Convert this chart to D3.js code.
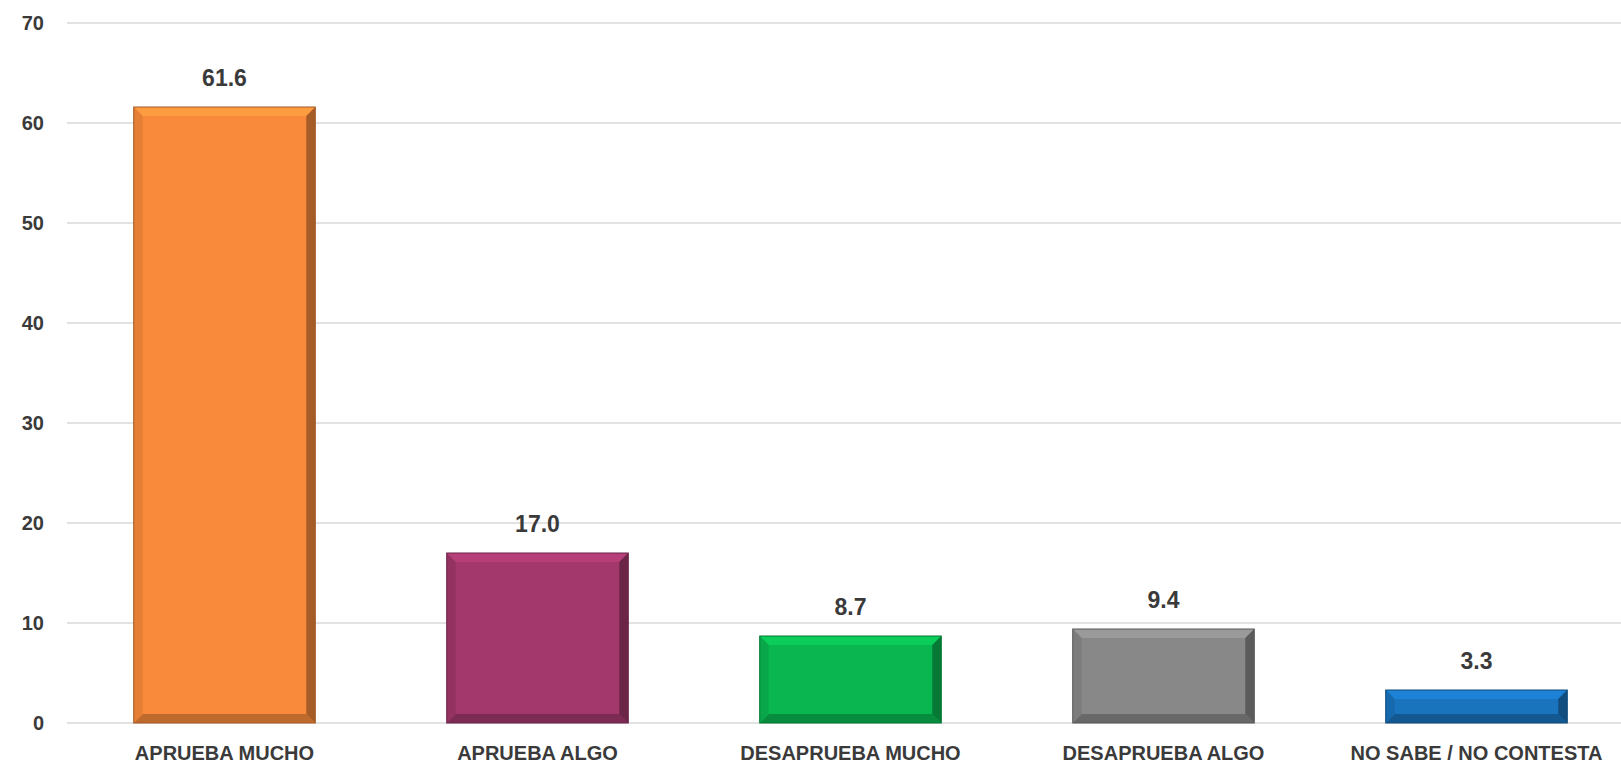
<!DOCTYPE html>
<html lang="es">
<head>
<meta charset="UTF-8">
<title>Aprobación</title>
<script src="https://cdn.jsdelivr.net/npm/d3@7"></script>
<style>
  body { margin: 0; padding: 0; background: #ffffff; }
  svg { display: block; }
  .tick text, .cat, .val {
    font-family: "Liberation Sans", Arial, sans-serif;
    font-weight: bold;
    fill: #3a3a3a;
  }
</style>
</head>
<body>
<div id="chart"></div>
<script>
  // data
  const categories = ["APRUEBA MUCHO", "APRUEBA ALGO", "DESAPRUEBA MUCHO", "DESAPRUEBA ALGO", "NO SABE / NO CONTESTA"];
  const values = [61.6, 17.0, 8.7, 9.4, 3.3];
  const colors = ["#F98A3B", "#A2386B", "#0AB650", "#888888", "#1A73BD"];
  const yTicks = [0, 10, 20, 30, 40, 50, 60, 70];

  const w = 1621, h = 764;

  const svg = d3.select("#chart")
    .append("svg")
    .attr("width", w)
    .attr("height", h);

  const x = d3.scaleBand()
    .domain(categories)
    .range([68, 1633])
    .paddingInner(0.42)
    .paddingOuter(0.21);

  const y = d3.scaleLinear()
    .domain([0, 70])
    .range([723, 23]);

  // gridlines
  svg.append("g")
    .selectAll("line")
    .data(yTicks)
    .enter()
    .append("line")
    .attr("x1", 67)
    .attr("x2", w)
    .attr("y1", d => y(d))
    .attr("y2", d => y(d))
    .attr("stroke", "#d9d9d9")
    .attr("stroke-width", 1.5);

  // y axis labels
  const yAxis = svg.append("g")
    .attr("transform", "translate(51,0)")
    .call(d3.axisLeft(y).tickValues(yTicks).tickSize(0).tickPadding(7));
  yAxis.select(".domain").remove();
  yAxis.selectAll(".tick text").style("font-size", "20px");

  // bars with bevel
  const bev = 9;
  const bars = svg.append("g")
    .selectAll("g")
    .data(categories)
    .enter()
    .append("g");

  bars.each(function (d, i) {
    const g = d3.select(this);
    const x0 = x(d), x1 = x(d) + x.bandwidth();
    const y0 = y(values[i]), y1 = y(0);
    const c = d3.color(colors[i]);
    g.append("rect")
      .attr("x", x0).attr("y", y0)
      .attr("width", x1 - x0).attr("height", y1 - y0)
      .attr("fill", c.formatHex());
    const b = Math.min(bev, (y1 - y0) / 2);
    const faces = [
      { p: [[x0, y0], [x1, y0], [x1 - b, y0 + b], [x0 + b, y0 + b]], col: c.brighter(0.4) },
      { p: [[x1, y0], [x1, y1], [x1 - b, y1 - b], [x1 - b, y0 + b]], col: c.darker(1.4) },
      { p: [[x0, y1], [x1, y1], [x1 - b, y1 - b], [x0 + b, y1 - b]], col: c.darker(0.9) },
      { p: [[x0, y0], [x0 + b, y0 + b], [x0 + b, y1 - b], [x0, y1]], col: c.darker(0.3) }
    ];
    g.selectAll("polygon")
      .data(faces)
      .enter()
      .append("polygon")
      .attr("points", f => f.p.map(q => q.join(",")).join(" "))
      .attr("fill", f => f.col.formatHex())
      .attr("opacity", 0.85);
    g.append("rect")
      .attr("x", x0).attr("y", y0)
      .attr("width", x1 - x0).attr("height", y1 - y0)
      .attr("fill", "none")
      .attr("stroke", c.darker(1.2).formatHex())
      .attr("stroke-width", 1);
  });

  // value labels
  svg.append("g")
    .selectAll("text")
    .data(categories)
    .enter()
    .append("text")
    .attr("class", "val")
    .attr("x", d => x(d) + x.bandwidth() / 2)
    .attr("y", (d, i) => y(values[i]) - 21)
    .attr("text-anchor", "middle")
    .style("font-size", "23px")
    .text((d, i) => values[i].toFixed(1));

  // category labels
  svg.append("g")
    .selectAll("text")
    .data(categories)
    .enter()
    .append("text")
    .attr("class", "cat")
    .attr("x", d => x(d) + x.bandwidth() / 2)
    .attr("y", 760)
    .attr("text-anchor", "middle")
    .style("font-size", "20px")
    .text(d => d);
</script>
</body>
</html>
